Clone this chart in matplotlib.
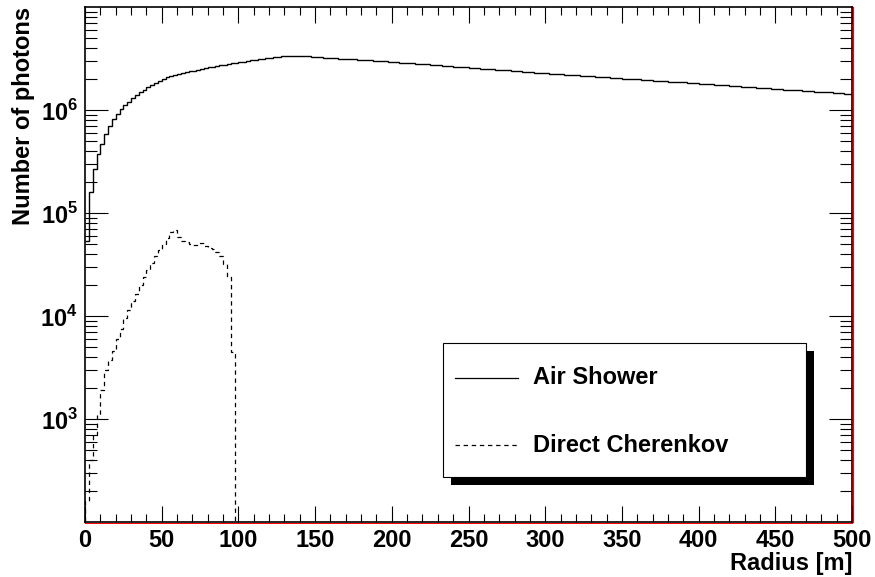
import numpy as np
import matplotlib
matplotlib.use("Agg")
import matplotlib.pyplot as plt
from matplotlib.ticker import FixedLocator, LogLocator, NullFormatter, FuncFormatter, MultipleLocator
from matplotlib.patches import Rectangle
from matplotlib.lines import Line2D
import matplotlib.transforms as mtransforms

plt.rcParams['font.family'] = ['Liberation Sans', 'DejaVu Sans']
plt.rcParams['font.weight'] = 'bold'
plt.rcParams['mathtext.fontset'] = 'custom'
plt.rcParams['mathtext.rm'] = 'Liberation Sans:bold'
plt.rcParams['mathtext.bf'] = 'Liberation Sans:bold'

# radial bins, 2.5 m wide
bin_width = 2.5
r_edges = np.arange(0, 500 + bin_width, bin_width)

# air shower photons per bin (x 1e6)
air_shower = [
    0.054, 0.16, 0.27, 0.37, 0.47, 0.59, 0.70, 0.82, 0.91, 1.02,
    1.11, 1.20, 1.30, 1.39, 1.48, 1.57, 1.66, 1.74, 1.83, 1.91,
    1.99, 2.07, 2.12, 2.17, 2.22, 2.27, 2.32, 2.37, 2.41, 2.46,
    2.50, 2.54, 2.59, 2.63, 2.67, 2.71, 2.75, 2.79, 2.83, 2.87,
    2.91, 2.95, 2.99, 3.03, 3.07, 3.11, 3.15, 3.19, 3.22, 3.26,
    3.29, 3.31, 3.33, 3.34, 3.35, 3.35, 3.34, 3.33, 3.31, 3.29,
    3.27, 3.25, 3.23, 3.21, 3.20, 3.18, 3.16, 3.15, 3.13, 3.11,
    3.10, 3.08, 3.06, 3.05, 3.03, 3.01, 3.00, 2.98, 2.96, 2.95,
    2.93, 2.91, 2.89, 2.87, 2.86, 2.84, 2.82, 2.80, 2.78, 2.77,
    2.75, 2.73, 2.71, 2.69, 2.68, 2.66, 2.64, 2.62, 2.60, 2.59,
    2.57, 2.55, 2.54, 2.52, 2.51, 2.49, 2.48, 2.46, 2.45, 2.43,
    2.42, 2.40, 2.39, 2.37, 2.36, 2.34, 2.33, 2.31, 2.30, 2.28,
    2.27, 2.26, 2.24, 2.23, 2.22, 2.21, 2.19, 2.18, 2.17, 2.16,
    2.14, 2.13, 2.12, 2.11, 2.09, 2.08, 2.07, 2.06, 2.04, 2.03,
    2.02, 2.01, 2.00, 1.99, 1.98, 1.97, 1.95, 1.94, 1.93, 1.92,
    1.91, 1.90, 1.89, 1.88, 1.87, 1.86, 1.85, 1.84, 1.82, 1.81,
    1.80, 1.79, 1.78, 1.77, 1.76, 1.75, 1.74, 1.73, 1.72, 1.71,
    1.70, 1.69, 1.68, 1.67, 1.66, 1.65, 1.64, 1.63, 1.62, 1.61,
    1.60, 1.59, 1.58, 1.57, 1.56, 1.55, 1.55, 1.54, 1.53, 1.52,
    1.51, 1.50, 1.49, 1.48, 1.48, 1.47, 1.46, 1.45, 1.44, 1.43,
]

# direct Cherenkov photons per bin, 0 - 97.5 m
direct_cherenkov = [
    160, 400, 700, 1100, 1900, 3000, 3700, 4600, 6000, 7500,
    9500, 11500, 14000, 16500, 20000, 24000, 28000, 33000, 38000, 44000,
    50000, 57000, 65000, 68000, 58000, 54000, 52000, 50000, 49000, 49000,
    51000, 48000, 46000, 45000, 42000, 38000, 32000, 24000, 4500,
]

legend_labels = ["Air Shower", "Direct Cherenkov"]

W, H = 875, 577
fig = plt.figure(figsize=(W / 100, H / 100), dpi=100)
ax = fig.add_axes([85 / W, 1 - 522 / H, 767 / W, 515 / H])

ax.stairs(np.array(air_shower) * 1e6, r_edges, color='black', lw=1.0,
          baseline=None)
ch_edges = r_edges[:len(direct_cherenkov) + 1]
ax.stairs(direct_cherenkov, ch_edges, color='black', lw=0.9,
          linestyle=(0, (3.5, 3)), baseline=1e-3)

ax.set_yscale('log')
ax.set_xlim(0, 500)
ax.set_ylim(1e2, 1e7)

ax.xaxis.set_major_locator(MultipleLocator(50))
ax.xaxis.set_minor_locator(MultipleLocator(10))
ax.yaxis.set_major_locator(FixedLocator([1e3, 1e4, 1e5, 1e6]))
ax.yaxis.set_minor_locator(LogLocator(base=10, subs=np.arange(2, 10)))
ax.yaxis.set_minor_formatter(NullFormatter())
ax.yaxis.set_major_formatter(FuncFormatter(
    lambda v, p: r'$10^{%d}$' % round(np.log10(v))))

ax.tick_params(axis='both', which='both', direction='in', top=True,
               right=True, width=0.8, labelsize=17)
ax.tick_params(axis='x', which='major', length=11.5, pad=5)
ax.tick_params(axis='x', which='minor', length=5.5)
ax.tick_params(axis='y', which='major', length=16.5, pad=5)
ax.tick_params(axis='y', which='minor', length=8.5)
for lab in ax.get_xticklabels() + ax.get_yticklabels():
    lab.set_fontweight('bold')

for s in ax.spines.values():
    s.set_linewidth(1.2)

# red frame line on bottom and right edges
red_b = mtransforms.offset_copy(ax.transAxes, fig, x=0, y=-1, units='dots')
red_r = mtransforms.offset_copy(ax.transAxes, fig, x=1, y=0, units='dots')
ax.plot([0, 1], [0, 0], transform=red_b, color='red', lw=0.7,
        clip_on=False, zorder=5)
ax.plot([1, 1], [0, 1], transform=red_r, color='red', lw=0.9,
        clip_on=False, zorder=5)

ax.set_xlabel("Radius [m]", loc='right', fontsize=17, fontweight='bold',
              labelpad=0)
ax.set_ylabel("Number of photons", loc='top', fontsize=17,
              fontweight='bold', labelpad=4)

# legend box with shadow
bx0, by0, bx1, by1 = 443, 343, 806, 477
shift = 8
fig.add_artist(Rectangle(((bx0 + shift) / W, 1 - (by1 + shift) / H),
                         (bx1 - bx0) / W, (by1 - by0) / H,
                         transform=fig.transFigure, facecolor='black',
                         edgecolor='black', lw=0, zorder=10))
fig.add_artist(Rectangle((bx0 / W, 1 - by1 / H), (bx1 - bx0) / W,
                         (by1 - by0) / H, transform=fig.transFigure,
                         facecolor='white', edgecolor='black', lw=0.8,
                         zorder=11))
styles = ['-', (0, (3.5, 3))]
rows = [378, 445]
for label, ls, yy in zip(legend_labels, styles, rows):
    fig.add_artist(Line2D([455 / W, 518 / W], [1 - yy / H, 1 - yy / H],
                          transform=fig.transFigure, color='black', lw=0.9,
                          linestyle=ls, zorder=12))
    fig.text(533 / W, 1 - yy / H, label, fontsize=17, fontweight='bold',
             ha='left', va='center', zorder=12)

fig.savefig("out.png", dpi=100)
